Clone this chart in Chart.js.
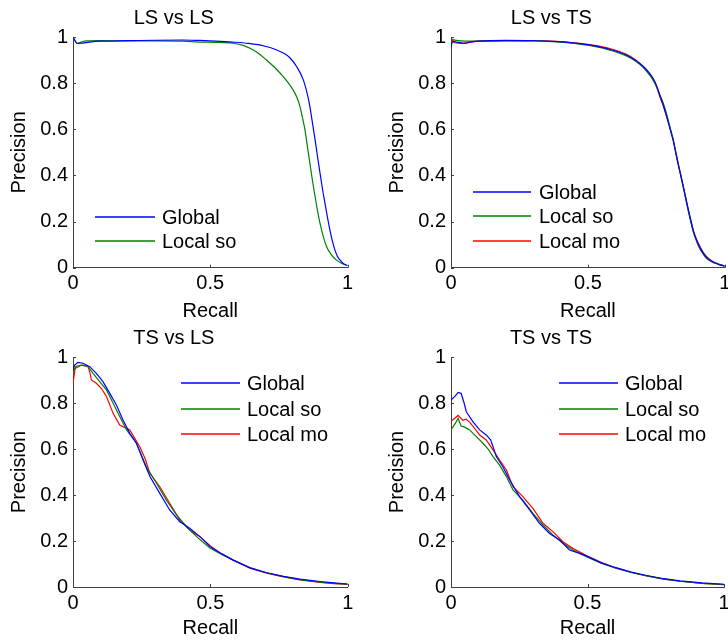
<!DOCTYPE html>
<html>
<head>
<meta charset="utf-8">
<script src="https://cdn.jsdelivr.net/npm/chart.js@4.4.0/dist/chart.umd.min.js"></script>
<style>
  body { margin: 0; background: #fff; overflow: hidden; }
  canvas { position: absolute; }
</style>
</head>
<body>
<canvas id="c1" width="364" height="324" style="left:0;top:0"></canvas>
<canvas id="c2" width="350" height="324" style="left:378px;top:0"></canvas>
<canvas id="c3" width="364" height="324" style="left:0;top:320px"></canvas>
<canvas id="c4" width="350" height="324" style="left:378px;top:320px"></canvas>
<script>
    // [recall, precision]
    const lsls_global = [[0,1.0],[0.005,0.99],[0.015,0.972],[0.03,0.973],[0.06,0.978],[0.1,0.982],[0.2,0.984],[0.3,0.986],[0.4,0.987],[0.46,0.985],[0.52,0.982],[0.58,0.978],[0.64,0.972],[0.7,0.96],[0.74,0.945],[0.77,0.928],[0.79,0.91],[0.815,0.871],[0.839,0.814],[0.857,0.735],[0.863,0.698],[0.872,0.63],[0.882,0.554],[0.891,0.48],[0.9,0.409],[0.909,0.34],[0.918,0.279],[0.927,0.218],[0.936,0.163],[0.945,0.115],[0.954,0.077],[0.963,0.05],[0.973,0.033],[0.985,0.018],[1.0,0.009]];
    const lsls_so = [[0,0.98],[0.005,0.985],[0.015,0.972],[0.03,0.978],[0.05,0.983],[0.1,0.984],[0.2,0.983],[0.3,0.983],[0.4,0.982],[0.46,0.978],[0.52,0.977],[0.583,0.973],[0.62,0.964],[0.645,0.951],[0.675,0.93],[0.705,0.9],[0.735,0.868],[0.766,0.828],[0.785,0.8],[0.802,0.77],[0.815,0.74],[0.827,0.698],[0.836,0.65],[0.845,0.597],[0.854,0.525],[0.863,0.453],[0.872,0.38],[0.882,0.308],[0.891,0.245],[0.9,0.192],[0.912,0.135],[0.924,0.091],[0.94,0.058],[0.96,0.033],[0.98,0.018],[1.0,0.009]];

    const lsts_global = [[0,0.955],[0.005,0.98],[0.02,0.978],[0.05,0.972],[0.07,0.978],[0.1,0.982],[0.2,0.985],[0.3,0.984],[0.398,0.98],[0.45,0.974],[0.519,0.963],[0.58,0.947],[0.641,0.922],[0.675,0.898],[0.702,0.873],[0.722,0.848],[0.739,0.82],[0.752,0.787],[0.763,0.748],[0.776,0.703],[0.788,0.655],[0.8,0.603],[0.812,0.55],[0.821,0.5],[0.83,0.448],[0.84,0.398],[0.849,0.35],[0.858,0.302],[0.867,0.253],[0.876,0.207],[0.885,0.162],[0.897,0.12],[0.91,0.087],[0.922,0.062],[0.934,0.045],[0.952,0.028],[0.971,0.018],[0.985,0.012],[1.0,0.008]];
    const lsts_so = [[0,0.995],[0.005,0.99],[0.02,0.985],[0.05,0.982],[0.1,0.982],[0.2,0.983],[0.3,0.983],[0.398,0.978],[0.45,0.972],[0.519,0.96],[0.58,0.943],[0.641,0.918],[0.675,0.895],[0.702,0.868],[0.722,0.84],[0.739,0.812],[0.752,0.782],[0.763,0.75],[0.776,0.712],[0.788,0.665],[0.8,0.61],[0.812,0.555],[0.821,0.5],[0.83,0.45],[0.84,0.395],[0.849,0.345],[0.858,0.295],[0.867,0.245],[0.876,0.198],[0.885,0.155],[0.897,0.115],[0.91,0.08],[0.922,0.058],[0.934,0.04],[0.952,0.026],[0.971,0.017],[0.985,0.011],[1.0,0.007]];
    const lsts_mo = [[0,0.96],[0.005,0.985],[0.015,0.975],[0.04,0.972],[0.06,0.976],[0.1,0.982],[0.2,0.984],[0.3,0.984],[0.398,0.98],[0.45,0.975],[0.519,0.965],[0.58,0.95],[0.641,0.925],[0.675,0.9],[0.702,0.871],[0.722,0.843],[0.739,0.814],[0.752,0.78],[0.763,0.741],[0.776,0.7],[0.788,0.655],[0.8,0.605],[0.812,0.554],[0.821,0.503],[0.83,0.453],[0.84,0.4],[0.849,0.351],[0.858,0.3],[0.867,0.25],[0.876,0.205],[0.885,0.163],[0.897,0.123],[0.91,0.091],[0.922,0.066],[0.934,0.048],[0.952,0.03],[0.971,0.019],[0.985,0.012],[1.0,0.007]];

    const tsls_global = [[0,0.943],[0.006,0.965],[0.018,0.977],[0.036,0.973],[0.061,0.958],[0.085,0.929],[0.109,0.893],[0.134,0.842],[0.158,0.791],[0.182,0.726],[0.207,0.668],[0.231,0.625],[0.255,0.552],[0.28,0.48],[0.316,0.407],[0.352,0.335],[0.389,0.284],[0.425,0.255],[0.462,0.219],[0.5,0.175],[0.54,0.145],[0.583,0.117],[0.644,0.083],[0.705,0.062],[0.766,0.046],[0.826,0.034],[0.9,0.024],[0.95,0.018],[1.0,0.013]];
    const tsls_so = [[0,0.93],[0.01,0.96],[0.036,0.965],[0.055,0.958],[0.073,0.929],[0.097,0.893],[0.122,0.857],[0.146,0.799],[0.17,0.741],[0.195,0.683],[0.231,0.625],[0.267,0.523],[0.304,0.451],[0.34,0.378],[0.377,0.313],[0.413,0.262],[0.45,0.219],[0.498,0.17],[0.54,0.142],[0.583,0.117],[0.644,0.085],[0.705,0.062],[0.766,0.045],[0.826,0.032],[0.9,0.021],[0.95,0.016],[1.0,0.012]];
    const tsls_mo = [[0,0.887],[0.008,0.95],[0.03,0.965],[0.055,0.958],[0.062,0.93],[0.067,0.9],[0.085,0.886],[0.103,0.864],[0.122,0.828],[0.146,0.755],[0.17,0.704],[0.207,0.683],[0.243,0.61],[0.262,0.56],[0.28,0.494],[0.316,0.436],[0.352,0.364],[0.389,0.291],[0.425,0.248],[0.462,0.219],[0.5,0.178],[0.54,0.145],[0.583,0.117],[0.644,0.082],[0.705,0.06],[0.766,0.044],[0.826,0.031],[0.9,0.02],[0.95,0.015],[1.0,0.011]];

    const tsts_global = [[0,0.813],[0.015,0.83],[0.026,0.846],[0.037,0.842],[0.048,0.8],[0.056,0.762],[0.08,0.719],[0.105,0.683],[0.129,0.661],[0.145,0.64],[0.154,0.61],[0.166,0.567],[0.19,0.523],[0.215,0.465],[0.251,0.393],[0.288,0.335],[0.324,0.277],[0.361,0.233],[0.398,0.204],[0.434,0.161],[0.471,0.146],[0.501,0.132],[0.55,0.105],[0.6,0.085],[0.66,0.065],[0.717,0.05],[0.78,0.036],[0.839,0.027],[0.92,0.018],[1.0,0.012]];
    const tsts_so = [[0,0.683],[0.015,0.71],[0.026,0.733],[0.037,0.7],[0.05,0.695],[0.068,0.683],[0.093,0.654],[0.117,0.625],[0.136,0.6],[0.154,0.567],[0.178,0.53],[0.203,0.48],[0.227,0.422],[0.263,0.378],[0.3,0.32],[0.337,0.27],[0.373,0.226],[0.41,0.19],[0.446,0.161],[0.5,0.13],[0.55,0.103],[0.6,0.083],[0.66,0.063],[0.717,0.048],[0.78,0.034],[0.839,0.025],[0.92,0.016],[1.0,0.01]];
    const tsts_mo = [[0,0.72],[0.015,0.735],[0.026,0.746],[0.043,0.725],[0.055,0.73],[0.068,0.717],[0.08,0.7],[0.105,0.661],[0.129,0.639],[0.154,0.596],[0.178,0.552],[0.203,0.509],[0.227,0.436],[0.263,0.393],[0.3,0.342],[0.337,0.277],[0.373,0.241],[0.41,0.197],[0.446,0.168],[0.5,0.135],[0.55,0.107],[0.6,0.085],[0.66,0.064],[0.717,0.048],[0.78,0.034],[0.839,0.025],[0.92,0.016],[1.0,0.01]];

    const seriesNames = ['Global', 'Local so', 'Local mo'];
    const seriesColors = ['#0000ff', '#008000', '#ff0000'];
    const xTicks = [0, 0.5, 1];
    const yTicks = [0, 0.2, 0.4, 0.6, 0.8, 1];

    Chart.defaults.font.family = '"Liberation Sans", Arial, sans-serif';
    Chart.defaults.font.size = 20;
    Chart.defaults.color = '#000';

    const AXIS = '#404040';
    const fmt = v => String(+v.toFixed(2));

    // matlab style inward ticks
    const innerTicks = {
        id: 'innerTicks',
        afterDraw(chart) {
            const ctx = chart.ctx, xs = chart.scales.x, ys = chart.scales.y;
            const a = chart.chartArea;
            ctx.save();
            ctx.strokeStyle = AXIS;
            ctx.lineWidth = 1;
            ctx.beginPath();
            xTicks.forEach(v => {
                const px = Math.round(xs.getPixelForValue(v)) + 0.5;
                ctx.moveTo(px, a.bottom);
                ctx.lineTo(px, a.bottom - 3);
            });
            yTicks.forEach(v => {
                const py = Math.round(ys.getPixelForValue(v)) + 0.5;
                ctx.moveTo(a.left, py);
                ctx.lineTo(a.left + 3, py);
            });
            ctx.stroke();
            ctx.restore();
        }
    };

    // legend drawn inside the axes, no box
    const insideLegend = {
        id: 'insideLegend',
        afterDatasetsDraw(chart, args, opts) {
            const ctx = chart.ctx, a = chart.chartArea;
            ctx.save();
            ctx.font = '20px "Liberation Sans", Arial, sans-serif';
            ctx.textBaseline = 'middle';
            ctx.textAlign = 'left';
            chart.data.datasets.forEach((ds, i) => {
                const y = Math.round(a.top + opts.y0 + i * opts.dy);
                ctx.beginPath();
                ctx.strokeStyle = ds.borderColor;
                ctx.lineWidth = 1.3;
                ctx.moveTo(a.left + opts.x0, y);
                ctx.lineTo(a.left + opts.x1, y);
                ctx.stroke();
                ctx.fillStyle = '#000';
                ctx.fillText(ds.label, a.left + opts.tx, y + 1);
            });
            ctx.restore();
        }
    };

    function makeChart(id, title, lists, pad, xHeight, recallPad, legend, smooth) {
        const datasets = lists.map((pts, i) => ({
            label: seriesNames[i],
            data: pts.map(p => ({x: p[0], y: p[1]})),
            borderColor: seriesColors[i],
            borderWidth: 1.2,
            pointRadius: 0,
            fill: false,
            cubicInterpolationMode: smooth ? 'monotone' : 'default',
            tension: 0
        }));
        return new Chart(document.getElementById(id), {
            type: 'line',
            data: { datasets: datasets },
            options: {
                responsive: false,
                animation: false,
                events: [],
                layout: { padding: { left: 0, top: 0, right: pad, bottom: 0 } },
                plugins: {
                    legend: { display: false },
                    tooltip: { enabled: false },
                    title: {
                        display: true,
                        text: title,
                        color: '#000',
                        font: { size: 20, weight: 'normal' },
                        padding: { top: 6, bottom: 7 }
                    },
                    insideLegend: legend
                },
                scales: {
                    x: {
                        type: 'linear',
                        min: 0, max: 1,
                        afterBuildTicks: s => { s.ticks = xTicks.map(v => ({value: v})); },
                        ticks: { padding: 4, maxRotation: 0, color: '#000', callback: fmt },
                        grid: { drawOnChartArea: false, drawTicks: false },
                        border: { color: AXIS, width: 1 },
                        title: { display: true, text: 'Recall', color: '#000', padding: { top: 0, bottom: recallPad } },
                        afterFit: s => { s.height = xHeight; s.paddingRight = 0; s.paddingLeft = 0; }
                    },
                    y: {
                        type: 'linear',
                        min: 0, max: 1,
                        afterBuildTicks: s => { s.ticks = yTicks.map(v => ({value: v})); },
                        ticks: { padding: 5, color: '#000', callback: fmt },
                        grid: { drawOnChartArea: false, drawTicks: false },
                        border: { color: AXIS, width: 1 },
                        title: { display: true, text: 'Precision', color: '#000', padding: { top: 7, bottom: 0 } },
                        afterFit: s => { s.width = 73; }
                    }
                }
            },
            plugins: [innerTicks, insideLegend]
        });
    }

    const legTop1 = { x0: 22, x1: 82, tx: 89, y0: 180, dy: 24.3 };
    const legTop2 = { x0: 22, x1: 80, tx: 88, y0: 155, dy: 24.3 };
    const legBottom = { x0: 108, x1: 167, tx: 174, y0: 26.3, dy: 25.3 };

    makeChart('c1', 'LS vs LS', [lsls_global, lsls_so], 16.5, 56.3, 0.5, legTop1, true);
    makeChart('c2', 'LS vs TS', [lsts_global, lsts_so, lsts_mo], 3.3, 56.3, 0.5, legTop2, true);
    makeChart('c3', 'TS vs LS', [tsls_global, tsls_so, tsls_mo], 16.3, 57, 3.5, legBottom, false);
    makeChart('c4', 'TS vs TS', [tsts_global, tsts_so, tsts_mo], 4, 57, 3.5, legBottom, false);
</script>
</body>
</html>
